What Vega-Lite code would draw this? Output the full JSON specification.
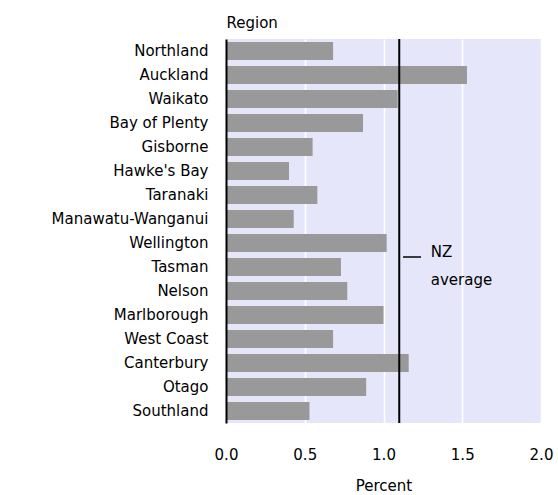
{
  "$schema": "https://vega.github.io/schema/vega-lite/v6.json",
  "autosize": {"type": "none"},
  "width": 315,
  "height": 384,
  "padding": {"left": 226, "top": 39, "right": 17, "bottom": 72},
  "background": "white",
  "config": {
    "font": "DejaVu Sans",
    "view": {"fill": "#e6e6fa", "stroke": null},
    "axis": {"labelFont": "DejaVu Sans", "titleFont": "DejaVu Sans", "labelColor": "#000", "titleColor": "#000", "titleFontWeight": "normal"}
  },
  "datasets": {
    "regions": [
      {"Region": "Northland", "Percent": 0.68},
      {"Region": "Auckland", "Percent": 1.53},
      {"Region": "Waikato", "Percent": 1.09},
      {"Region": "Bay of Plenty", "Percent": 0.87},
      {"Region": "Gisborne", "Percent": 0.55},
      {"Region": "Hawke's Bay", "Percent": 0.40},
      {"Region": "Taranaki", "Percent": 0.58},
      {"Region": "Manawatu-Wanganui", "Percent": 0.43},
      {"Region": "Wellington", "Percent": 1.02},
      {"Region": "Tasman", "Percent": 0.73},
      {"Region": "Nelson", "Percent": 0.77},
      {"Region": "Marlborough", "Percent": 1.00},
      {"Region": "West Coast", "Percent": 0.68},
      {"Region": "Canterbury", "Percent": 1.16},
      {"Region": "Otago", "Percent": 0.89},
      {"Region": "Southland", "Percent": 0.53}
    ],
    "average": [
      {"Label": "NZ average", "Percent": 1.1, "Region": "Wellington", "DashStart": 1.124, "DashEnd": 1.238, "TextX": 1.3}
    ]
  },
  "layer": [
    {
      "data": {"name": "regions"},
      "mark": {"type": "bar", "color": "#999999"},
      "encoding": {
        "y": {
          "field": "Region", "type": "nominal",
          "sort": ["Northland", "Auckland", "Waikato", "Bay of Plenty", "Gisborne", "Hawke's Bay", "Taranaki", "Manawatu-Wanganui", "Wellington", "Tasman", "Nelson", "Marlborough", "West Coast", "Canterbury", "Otago", "Southland"],
          "scale": {
            "domain": ["Northland", "Auckland", "Waikato", "Bay of Plenty", "Gisborne", "Hawke's Bay", "Taranaki", "Manawatu-Wanganui", "Wellington", "Tasman", "Nelson", "Marlborough", "West Coast", "Canterbury", "Otago", "Southland"],
            "paddingInner": 0.25, "paddingOuter": 0.125
          },
          "axis": {
            "title": "Region", "titleAngle": 0, "titleX": 0, "titleY": -12,
            "titleAlign": "left", "titleBaseline": "alphabetic", "titleFontSize": 15,
            "labelFontSize": 15, "ticks": false, "labelPadding": 18,
            "domainColor": "#000", "domainWidth": 2, "zindex": 1
          }
        },
        "x": {
          "field": "Percent", "type": "quantitative",
          "scale": {"domain": [0, 2], "nice": false, "zero": true},
          "axis": {
            "title": "Percent", "values": [0, 0.5, 1, 1.5, 2], "format": ".1f",
            "labelFontSize": 15, "titleFontSize": 15, "ticks": false, "labelPadding": 24,
            "domain": false, "grid": true, "gridColor": "white", "gridWidth": 1.5, "gridOpacity": 1,
            "titleY": 55, "titleBaseline": "top", "labelFlush": false
          }
        }
      }
    },
    {
      "data": {"name": "average"},
      "mark": {"type": "rule", "color": "#000", "strokeWidth": 2},
      "encoding": {"x": {"field": "Percent", "type": "quantitative"}}
    },
    {
      "data": {"name": "average"},
      "mark": {"type": "rule", "color": "#000", "strokeWidth": 1.5, "yOffset": 14},
      "encoding": {
        "x": {"field": "DashStart", "type": "quantitative"},
        "x2": {"field": "DashEnd"},
        "y": {"field": "Region", "type": "nominal"}
      }
    },
    {
      "data": {"name": "average"},
      "mark": {"type": "text", "align": "left", "baseline": "middle", "fontSize": 15, "color": "#000", "yOffset": 9},
      "encoding": {
        "x": {"field": "TextX", "type": "quantitative"},
        "y": {"field": "Region", "type": "nominal"},
        "text": {"value": "NZ"}
      }
    },
    {
      "data": {"name": "average"},
      "mark": {"type": "text", "align": "left", "baseline": "middle", "fontSize": 15, "color": "#000", "yOffset": 37},
      "encoding": {
        "x": {"field": "TextX", "type": "quantitative"},
        "y": {"field": "Region", "type": "nominal"},
        "text": {"value": "average"}
      }
    }
  ]
}
